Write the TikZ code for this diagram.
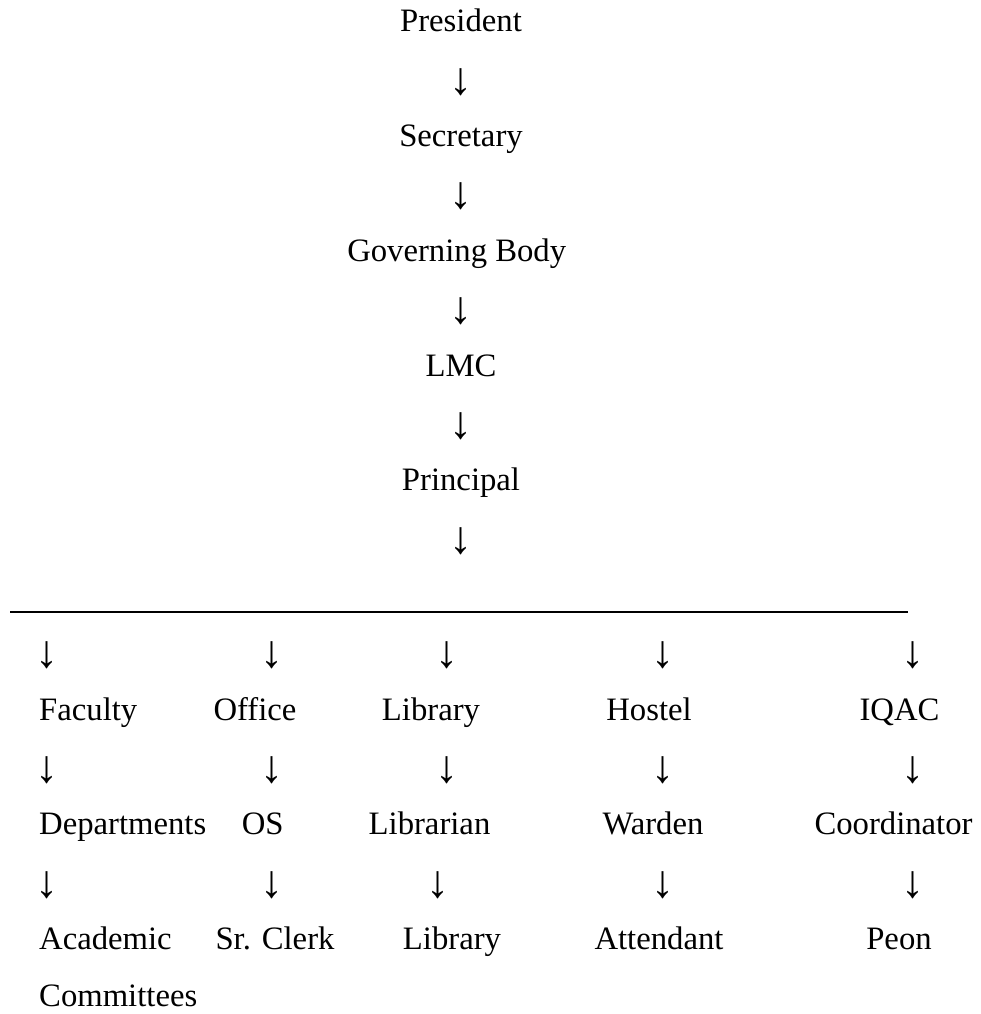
\documentclass[tikz,border=0pt]{standalone}
\usepackage{fontspec}
\setmainfont{Liberation Serif}
\newcommand{\downarr}[3]{%
  \node[ar] (#1) at ({#2},{-#3+7.35}) {↓};}
\begin{document}
\begin{tikzpicture}[x=1pt,y=1pt,
  t/.style={font=\fontsize{32.7}{39}\selectfont, inner sep=0pt, anchor=base},
  tl/.style={t, anchor=base west},
  ar/.style={font=\fontsize{46}{50}\selectfont, inner sep=0pt, anchor=center},
  bar/.style={line width=1.3pt}]
\useasboundingbox (0,0) rectangle (981,-1014);
% central chain
\node[t] (pres) at (461,-32) {President};
\downarr{a1}{461}{89.35}
\node[t] (sec) at (461,-146.7) {Secretary};
\downarr{a2}{461}{204.05}
\node[t] (gb) at (456.7,-261.4) {Governing Body};
\downarr{a3}{461}{318.75}
\node[t] (lmc) at (461,-376.1) {LMC};
\downarr{a4}{461}{433.45}
\node[t] (prin) at (461,-490.8) {Principal};
\downarr{a5}{461}{548.15}
% horizontal rule
\coordinate (barL) at (10,-612);
\coordinate (barR) at (908,-612);
\draw[bar] (barL) -- (barR);
% row of arrows
\downarr{b1}{47}{662.85}
\downarr{b2}{272}{662.85}
\downarr{b3}{447}{662.85}
\downarr{b4}{662.7}{662.85}
\downarr{b5}{912.7}{662.85}
% first level
\node[tl] (fac) at (39,-720.2) {Faculty};
\node[t] (off) at (255,-720.2) {Office};
\node[t] (lib) at (431,-720.2) {Library};
\node[t] (hos) at (649,-720.2) {Hostel};
\node[t] (iqac) at (899.5,-720.2) {IQAC};
% arrows
\downarr{c1}{47}{777.55}
\downarr{c2}{272}{777.55}
\downarr{c3}{447}{777.55}
\downarr{c4}{662.7}{777.55}
\downarr{c5}{912.7}{777.55}
% second level
\node[tl] (dep) at (39,-834.9) {Departments};
\node[t] (os) at (262.7,-834.9) {OS};
\node[t] (libn) at (429.5,-834.9) {Librarian};
\node[t] (war) at (653,-834.9) {Warden};
\node[t] (coo) at (893.5,-834.9) {Coordinator};
% arrows
\downarr{d1}{47}{892.25}
\downarr{d2}{272}{892.25}
\downarr{d3}{438}{892.25}
\downarr{d4}{662.7}{892.25}
\downarr{d5}{912.7}{892.25}
% third level
\node[tl] (aca) at (39,-949.6) {Academic};
\node[t] (clk) at (275,-949.6) {Sr. Clerk};
\node[t] (lib2) at (452,-949.6) {Library};
\node[t] (att) at (659,-949.6) {Attendant};
\node[t] (peon) at (899,-949.6) {Peon};
\node[tl] (com) at (39,-1006.95) {Committees};
\end{tikzpicture}
\end{document}
